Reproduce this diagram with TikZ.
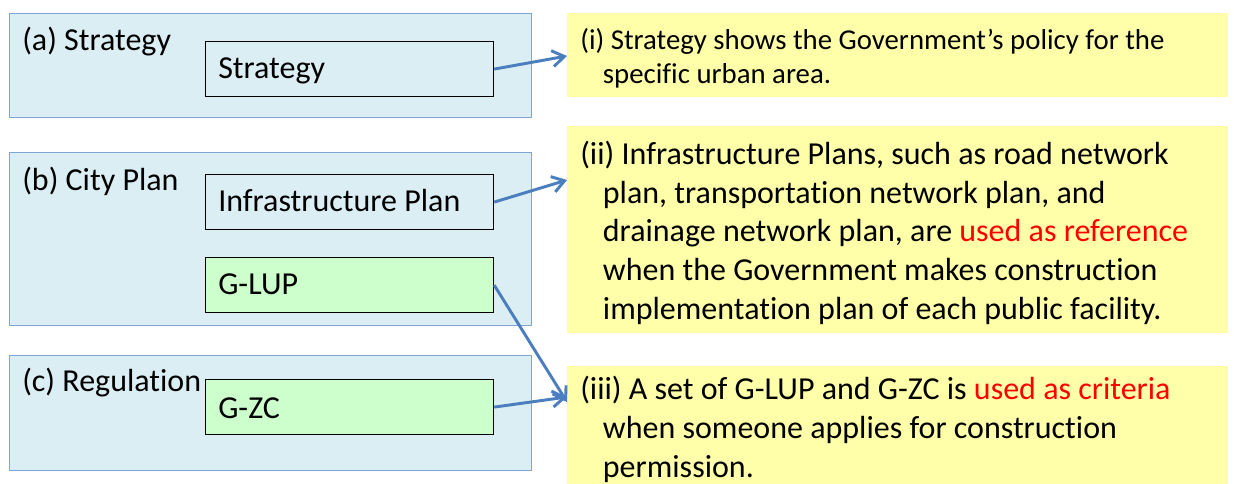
\documentclass[tikz,border=0pt]{standalone}
\usepackage{fontspec}
\setmainfont[Ligatures=NoCommon]{Carlito}
\usetikzlibrary{arrows.meta,calc}
\definecolor{panelfill}{HTML}{DBEEF4}
\definecolor{paneldraw}{HTML}{7FA4D6}
\definecolor{notefill}{HTML}{FFFFAA}
\definecolor{itemgreen}{HTML}{CCFFCC}
\definecolor{arrowblue}{HTML}{4A7EBF}
\definecolor{hilite}{HTML}{FF0000}
% one drawing unit is one pixel of a 1234 x 483 canvas (0.75pt)
\tikzset{
  panel/.style={draw=paneldraw, line width=1.1pt, fill=panelfill, anchor=north west, inner sep=0pt, minimum width=391.5pt, minimum height=#1},
  itembox/.style={draw=black, line width=0.9pt, fill=#1, anchor=north west, inner sep=0pt, minimum width=216pt, minimum height=41.25pt},
  note/.style={fill=notefill, anchor=north west, inner sep=0pt, minimum width=495.75pt, minimum height=#1},
  lbl/.style={anchor=base west, inner sep=0pt, font=\fontsize{24}{28.9}\selectfont},
  notetext/.style={anchor=base west, inner sep=0pt, align=left, font=\fontsize{24}{28.9}\selectfont},
  link/.style={draw=arrowblue, line width=2.2pt, -{Straight Barb[length=9pt,width=12pt,line width=2.2pt]}}
}
\newcommand{\hang}{\hspace*{17pt}}
\begin{document}
\begin{tikzpicture}[x=0.75pt,y=-0.75pt]
\useasboundingbox (0,0) rectangle (1234,483);

% left panels
\node[panel=78pt] (pa) at (9,13) {};
\node[panel=129.75pt] (pb) at (9,152) {};
\node[panel=86.25pt] (pc) at (9,355) {};

\node[lbl] (la) at (22,50) {(a) Strategy};
\node[lbl] (lb) at (22,190) {(b) City Plan};
\node[lbl] (lc) at (22,391) {(c) Regulation};

% plan items
\node[itembox=panelfill] (strat) at (205,41) {};
\node[itembox=panelfill] (infra) at (205,174) {};
\node[itembox=itemgreen] (glup) at (205,257) {};
\node[itembox=itemgreen] (gzc) at (205,379) {};

\node[lbl] (tstrat) at (218,78) {Strategy};
\node[lbl] (tinfra) at (218,211) {Infrastructure Plan};
\node[lbl] (tglup) at (218,294) {G-LUP};
\node[lbl] (tgzc) at (218,418) {G-ZC};

% explanatory notes (text nodes sit on the baseline of their last line)
\node[note=63pt] (ni) at (567,13) {};
\node[note=155.25pt] (nii) at (567,126) {};
\node[note=93.75pt] (niii) at (567,366) {};

\node[notetext, font=\fontsize{21.6}{25.5}\selectfont] (ti) at (580,83)
  {(i) Strategy shows the Government’s policy for the\\\hang specific urban area.};
\node[notetext] (tii) at (580,319)
  {(ii) Infrastructure Plans, such as road network\\
   \hang plan, transportation network plan, and\\
   \hang drainage network plan, are \textcolor{hilite}{used as reference}\\
   \hang when the Government makes construction\\
   \hang implementation plan of each public facility.};
\node[notetext] (tiii) at (580,477)
  {(iii) A set of G-LUP and G-ZC is \textcolor{hilite}{used as criteria}\\
   \hang when someone applies for construction\\
   \hang permission.};

% connectors
\draw[link] (strat.east) -- ($(ni.north west)+(0,43)$);
\draw[link] (infra.east) -- ($(nii.north west)+(0,54)$);
\draw[link] (glup.east) -- ($(niii.north west)+(0,36)$);
\draw[link] (gzc.east) -- ($(niii.north west)+(0,31)$);
\end{tikzpicture}
\end{document}
